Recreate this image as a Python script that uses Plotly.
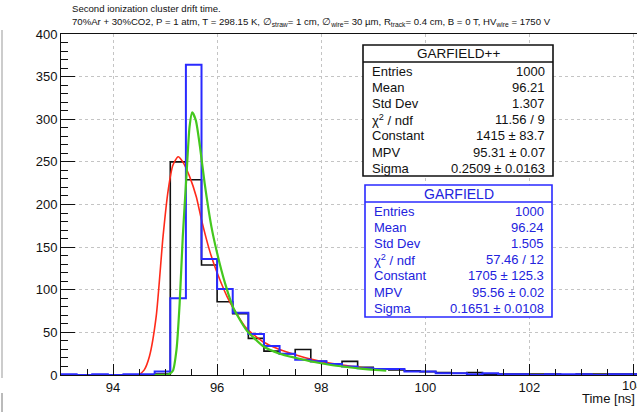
import plotly.graph_objects as go

# ---------------- data ----------------
bin_edges = [93.0, 93.3, 93.6, 93.9, 94.2, 94.5, 94.8, 95.1, 95.4, 95.7, 96.0, 96.3,
             96.6, 96.9, 97.2, 97.5, 97.8, 98.1, 98.4, 98.7, 99.0, 99.3, 99.6, 99.9,
             100.2, 100.5, 100.8, 101.1, 101.4, 101.7, 102.0, 102.3, 102.6, 102.9,
             103.2, 103.5, 103.8, 104.1]
counts_garfieldpp = [0, 0, 0, 0, 0, 0, 1, 250, 229, 129, 86, 72, 43, 28, 25, 30, 16, 13,
                     16, 9, 7, 6, 5, 4, 3, 2, 3, 1, 1, 1, 1, 1, 0, 1, 1, 1, 1]
counts_garfield = [1, 0, 1, 0, 1, 1, 4, 90, 364, 136, 101, 73, 48, 34, 25, 18, 16, 13,
                   10, 8, 7, 7, 4, 4, 2, 2, 1, 2, 1, 1, 0, 1, 1, 1, 0, 1, 1]

fit_red_x = [94.50, 94.60, 94.70, 94.83, 94.96, 95.06, 95.15, 95.25, 95.34, 95.47,
             95.60, 95.70, 95.86, 96.00, 96.24, 96.56, 96.88, 97.20, 97.52, 97.84,
             98.16, 98.48, 98.80, 99.00]
fit_red_y = [0, 6, 22, 69, 162, 217, 246, 256, 250, 233,
             209, 182, 145, 120, 86, 55, 39, 30, 23.5, 18,
             14, 11, 8.5, 7.5]

fit_green_x = [94.80, 95.06, 95.15, 95.22, 95.28, 95.34, 95.41, 95.47, 95.52, 95.59,
               95.67, 95.76, 95.89, 96.00, 96.15, 96.31, 96.56, 96.88, 97.20, 97.52,
               97.84, 98.16, 98.48, 98.80, 99.12, 99.25]
fit_green_y = [0, 0.5, 5, 30, 84, 162, 233, 291, 308, 299,
               268, 225, 174, 143, 108, 79, 53, 34, 25, 20,
               15.5, 12, 9.4, 7.2, 5.6, 5]

x_tick_vals = [94, 96, 98, 100, 102, 104]
y_tick_vals = [0, 50, 100, 150, 200, 250, 300, 350, 400]

stat_labels = ["Entries", "Mean", "Std Dev", "χ<sup>2</sup> / ndf", "Constant", "MPV", "Sigma"]
stat_values_gpp = ["1000", "96.21", "1.307", "11.56 / 9", "1415 ± 83.7", "95.31 ± 0.07",
                   "0.2509 ± 0.0163"]
stat_values_g = ["1000", "96.24", "1.505", "57.46 / 12", "1705 ± 125.3", "95.56 ± 0.02",
                 "0.1651 ± 0.0108"]

title_line1 = "Second ionization cluster drift time."
title_line2 = ("70%Ar + 30%CO2, P = 1 atm, T = 298.15 K, ∅<sub>straw</sub>= 1 cm, "
               "∅<sub>wire</sub>= 30 µm, R<sub>track</sub>= 0.4 cm, B = 0 T, "
               "HV<sub>wire</sub> = 1750 V")

# ---------------- layout geometry ----------------
W_FIG, H_FIG = 637, 412
L, T, B, R = 61, 34, 37, 0
PW, PH = W_FIG - L - R, H_FIG - T - B
X0 = 93.0
PX_PER_NS = 52.04
X1 = X0 + PW / PX_PER_NS

FONT = "Liberation Sans, Arial, Helvetica, sans-serif"
BLACK = "#111111"
BLUE = "#2a2aff"
BLUE_TXT = "#2222dd"
RED = "#ff2a1a"
GREEN = "#44c81e"


def fx(px):
    return (px - L) / PW


def fy(py):
    return (T + PH - py) / PH


fig = go.Figure()

fig.add_trace(go.Scatter(x=bin_edges, y=counts_garfieldpp + [counts_garfieldpp[-1]],
                         mode="lines", line=dict(shape="hv", color=BLACK, width=1.6),
                         showlegend=False, hoverinfo="skip"))
fig.add_trace(go.Scatter(x=fit_red_x, y=fit_red_y, mode="lines",
                         line=dict(shape="spline", smoothing=0.6, color=RED, width=1.6),
                         showlegend=False, hoverinfo="skip"))
fig.add_trace(go.Scatter(x=bin_edges, y=counts_garfield + [counts_garfield[-1]],
                         mode="lines", line=dict(shape="hv", color=BLUE, width=2),
                         showlegend=False, hoverinfo="skip"))
fig.add_trace(go.Scatter(x=fit_green_x, y=fit_green_y, mode="lines",
                         line=dict(shape="spline", smoothing=0.6, color=GREEN, width=2.2),
                         showlegend=False, hoverinfo="skip"))

shapes = []
annotations = []


def stats_box(x0, x1, top, sep, bottom, color, txtcolor, header, values, row0, header_size):
    shapes.append(dict(type="rect", xref="paper", yref="paper", x0=fx(x0), x1=fx(x1),
                       y0=fy(bottom), y1=fy(top), line=dict(color=color, width=1.6),
                       fillcolor="white", layer="above"))
    shapes.append(dict(type="line", xref="paper", yref="paper", x0=fx(x0), x1=fx(x1),
                       y0=fy(sep), y1=fy(sep), line=dict(color=color, width=1.4),
                       layer="above"))
    annotations.append(dict(text=header, xref="paper", yref="paper",
                            x=fx((x0 + x1) / 2), y=fy((top + sep) / 2 + 0.5),
                            xanchor="center", yanchor="middle", showarrow=False,
                            font=dict(family=FONT, size=header_size, color=txtcolor)))
    for i, (lab, val) in enumerate(zip(stat_labels, values)):
        yy = row0 + 16.2 * i
        annotations.append(dict(text=lab, xref="paper", yref="paper", x=fx(x0 + 7),
                                y=fy(yy), xanchor="left", yanchor="middle",
                                showarrow=False,
                                font=dict(family=FONT, size=13, color=txtcolor)))
        annotations.append(dict(text=val, xref="paper", yref="paper", x=fx(x1 - 6),
                                y=fy(yy), xanchor="right", yanchor="middle",
                                showarrow=False,
                                font=dict(family=FONT, size=13, color=txtcolor)))


stats_box(363, 553, 45, 62, 176, "#111111", "#111111", "GARFIELD++", stat_values_gpp, 71, 13.5)
stats_box(365, 552, 185, 202, 317, BLUE, BLUE_TXT, "GARFIELD", stat_values_g, 211, 14)

# title
annotations.append(dict(text=title_line1, xref="paper", yref="paper", x=fx(70), y=fy(8),
                        xanchor="left", yanchor="middle", showarrow=False,
                        font=dict(family=FONT, size=9.6, color=BLACK)))
annotations.append(dict(text=title_line2, xref="paper", yref="paper", x=fx(70), y=fy(22),
                        xanchor="left", yanchor="middle", showarrow=False,
                        font=dict(family=FONT, size=9.6, color=BLACK)))
# x-axis title
annotations.append(dict(text="Time [ns]", xref="paper", yref="paper", x=fx(637), y=fy(398),
                        xanchor="right", yanchor="middle", showarrow=False,
                        font=dict(family=FONT, size=13, color=BLACK)))
# last x tick label, cut by the right edge of the picture as in the original
annotations.append(dict(text=str(x_tick_vals[-1]), xref="x", yref="paper",
                        x=x_tick_vals[-1], y=fy(385), xanchor="center", yanchor="middle",
                        showarrow=False, font=dict(family=FONT, size=13, color=BLACK)))

# neighbouring pad edge on the far left
shapes.append(dict(type="line", xref="paper", yref="paper", x0=fx(2), x1=fx(2),
                   y0=fy(378), y1=fy(30), line=dict(color="#999999", width=1)))
shapes.append(dict(type="line", xref="paper", yref="paper", x0=fx(2), x1=fx(2),
                   y0=fy(412), y1=fy(393), line=dict(color="#777777", width=1)))

fig.update_layout(
    width=W_FIG, height=H_FIG,
    margin=dict(l=L, r=R, t=T, b=B, pad=0),
    paper_bgcolor="white", plot_bgcolor="white",
    shapes=shapes, annotations=annotations,
    font=dict(family=FONT, size=13, color=BLACK),
    xaxis=dict(range=[X0, X1], tickvals=x_tick_vals, ticks="inside", ticklen=11,
               tickwidth=1, tickcolor=BLACK, showline=True, linecolor=BLACK, linewidth=1,
               mirror=True, showgrid=True, gridcolor="#c4c4c4", griddash="dot",
               gridwidth=1, zeroline=False, tickfont=dict(family=FONT, size=13, color=BLACK),
               minor=dict(dtick=0.5, tick0=94, ticks="inside", ticklen=6, tickcolor=BLACK,
                          showgrid=False)),
    yaxis=dict(range=[0, 400], tickvals=y_tick_vals, ticks="inside", ticklen=14,
               tickwidth=1, tickcolor=BLACK, showline=True, linecolor=BLACK, linewidth=1,
               mirror=True, showgrid=True, gridcolor="#c4c4c4", griddash="dot",
               gridwidth=1, zeroline=False, tickfont=dict(family=FONT, size=13, color=BLACK),
               minor=dict(dtick=10, ticks="inside", ticklen=7, tickcolor=BLACK,
                          showgrid=False)),
)

fig.write_html("out.html",
               config={"displayModeBar": False},
               post_script="document.body.style.margin='0px';"
                           "document.body.style.overflow='hidden';")
